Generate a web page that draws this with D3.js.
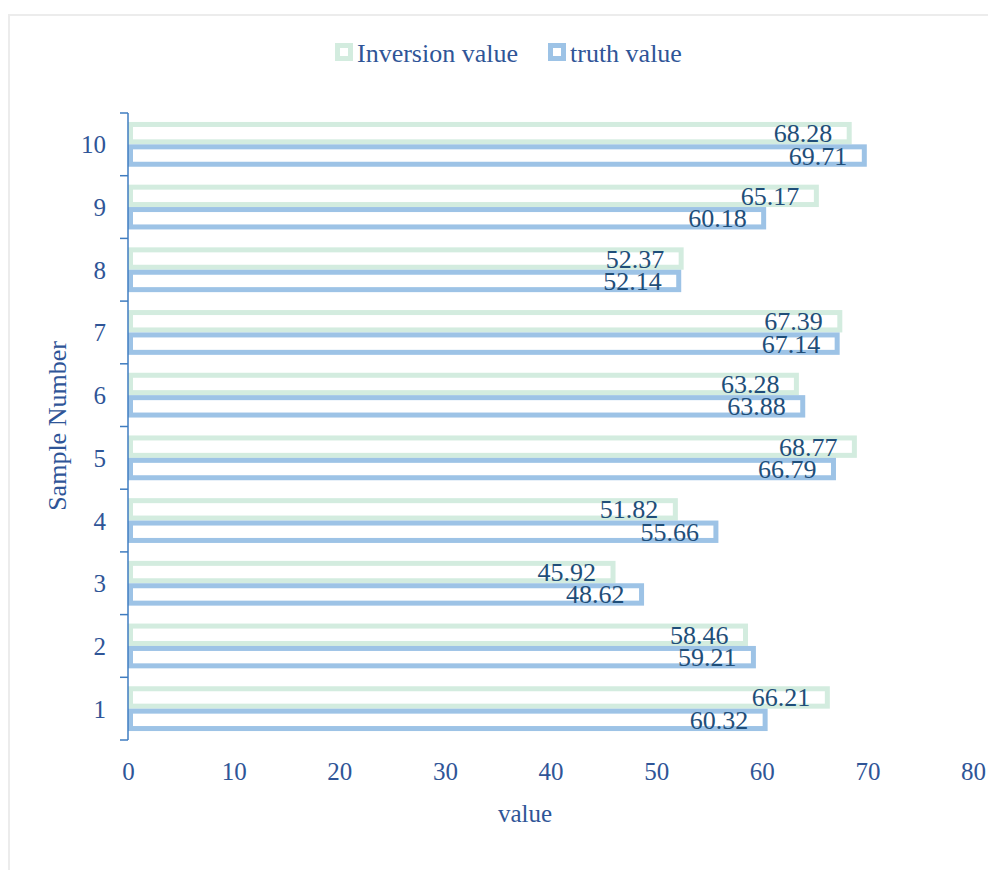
<!DOCTYPE html>
<html>
<head>
<meta charset="utf-8">
<script src="https://cdn.jsdelivr.net/npm/d3@7"></script>
<style>
  body { margin: 0; background: #fff; }
  text { font-family: "Liberation Serif", "Times New Roman", serif; }
</style>
</head>
<body>
<svg id="chart" width="988" height="870"></svg>
<script>
var samples = ["1", "2", "3", "4", "5", "6", "7", "8", "9", "10"];
var inversion_vals = [66.21, 58.46, 45.92, 51.82, 68.77, 63.28, 67.39, 52.37, 65.17, 68.28];
var truth_vals = [60.32, 59.21, 48.62, 55.66, 66.79, 63.88, 67.14, 52.14, 60.18, 69.71];
var series_names = ["Inversion value", "truth value"];
var x_ticks = [0, 10, 20, 30, 40, 50, 60, 70, 80];

var colors = {"Inversion value": "#d3ecdf", "truth value": "#9dc3e6"};
var axis_color = "#3f7cc0",
    tick_color = "#2f5597",
    label_color = "#1f4e79";

var svg = d3.select("#chart");

// light frame round the chart area
svg.append("rect")
    .attr("x", 9).attr("y", 15)
    .attr("width", 985).attr("height", 870)
    .attr("fill", "none")
    .attr("stroke", "#ececec")
    .attr("stroke-width", 2);

var x = d3.scaleLinear().domain([0, 80]).range([128, 973]);
// sample 1 at the bottom
var y = d3.scaleBand().domain(samples.slice().reverse()).range([113, 740]);
var inner = d3.scaleBand().domain(series_names).range([0, y.bandwidth()]).paddingOuter(0.4);

var rows = samples.map((s, i) => ({sample: s, "Inversion value": inversion_vals[i], "truth value": truth_vals[i]}));

var sw = 5;
var groups = svg.selectAll(".row").data(rows).enter()
    .append("g")
    .attr("class", "row")
    .attr("transform", d => `translate(0,${y(d.sample)})`);

groups.selectAll("rect")
    .data(d => series_names.map(n => ({name: n, value: d[n]})))
    .enter()
    .append("rect")
    .attr("x", x(0) + sw / 2)
    .attr("y", d => inner(d.name) + sw / 2)
    .attr("width", d => x(d.value) - x(0) - sw / 2)
    .attr("height", inner.bandwidth() - sw)
    .attr("fill", "#fff")
    .attr("stroke", d => colors[d.name])
    .attr("stroke-width", sw);

groups.selectAll(".lbl")
    .data(d => series_names.map(n => ({name: n, value: d[n]})))
    .enter()
    .append("text")
    .attr("class", "lbl")
    .attr("x", d => x(d.value) - 17)
    .attr("y", d => inner(d.name) + inner.bandwidth() / 2 + 9)
    .attr("text-anchor", "end")
    .attr("font-size", 26)
    .attr("fill", label_color)
    .text(d => d.value.toFixed(2));

// y axis: line with ticks between categories
svg.append("line")
    .attr("x1", x(0)).attr("x2", x(0))
    .attr("y1", y.range()[0]).attr("y2", y.range()[1])
    .attr("stroke", axis_color).attr("stroke-width", 1.5);

var bounds = samples.map(s => y(s)).concat([y.range()[1]]);
svg.selectAll(".ytick").data(bounds).enter()
    .append("line")
    .attr("class", "ytick")
    .attr("x1", x(0) - 8).attr("x2", x(0))
    .attr("y1", d => d).attr("y2", d => d)
    .attr("stroke", axis_color).attr("stroke-width", 1.5);

svg.selectAll(".ylbl").data(samples).enter()
    .append("text")
    .attr("class", "ylbl")
    .attr("x", 106)
    .attr("y", d => y(d) + y.bandwidth() / 2 + 9)
    .attr("text-anchor", "end")
    .attr("font-size", 25)
    .attr("fill", tick_color)
    .text(d => d);

// x axis labels only
var xAxis = svg.append("g")
    .attr("transform", "translate(0,758)")
    .call(d3.axisBottom(x).tickValues(x_ticks).tickSize(0).tickPadding(0).tickFormat(d3.format("d")));
xAxis.select(".domain").remove();
xAxis.selectAll("text")
    .attr("y", 22)
    .attr("dy", null)
    .attr("font-family", "Liberation Serif, serif")
    .attr("font-size", 25)
    .attr("fill", tick_color);

// axis titles
svg.append("text")
    .attr("x", 525).attr("y", 822)
    .attr("text-anchor", "middle")
    .attr("font-size", 25)
    .attr("fill", tick_color)
    .text("value");

svg.append("text")
    .attr("transform", "translate(66,426) rotate(-90)")
    .attr("text-anchor", "middle")
    .attr("font-size", 26)
    .attr("fill", tick_color)
    .text("Sample Number");

// legend
var legend_x = [335, 548];
var legend = svg.selectAll(".leg").data(series_names).enter()
    .append("g")
    .attr("class", "leg")
    .attr("transform", (d, i) => `translate(${legend_x[i]},43)`);
legend.append("rect")
    .attr("x", 2.5).attr("y", 2.5)
    .attr("width", 13).attr("height", 13)
    .attr("fill", "#fff")
    .attr("stroke", d => colors[d])
    .attr("stroke-width", 5);
legend.append("text")
    .attr("x", 22).attr("y", 19)
    .attr("font-size", 26)
    .attr("fill", tick_color)
    .text(d => d);
</script>
</body>
</html>
